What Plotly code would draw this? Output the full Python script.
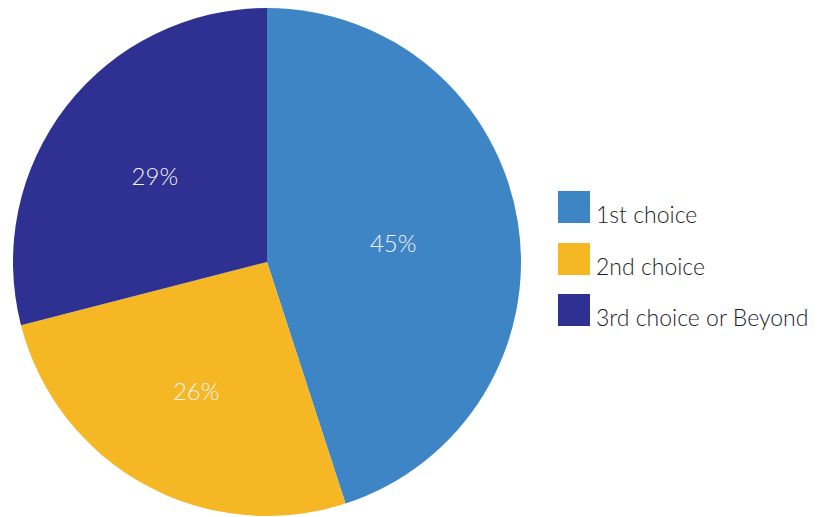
import plotly.graph_objects as go

labels = ["1st choice", "2nd choice", "3rd choice or Beyond"]
values = [45, 26, 29]
colors = ["#3E85C6", "#F5B724", "#2E3192"]

W, H = 822, 517
OFF = 8  # page body margin compensation
cx, cy, r = 267 - OFF, 262 - OFF, 254

fig = go.Figure(go.Pie(
    labels=labels,
    values=values,
    sort=False,
    direction="clockwise",
    rotation=0,
    marker=dict(colors=colors, line=dict(width=0)),
    texttemplate="%{value}%",
    textposition="inside",
    insidetextorientation="horizontal",
    insidetextfont=dict(family="Lato", size=24, color="#F4F4F4", weight=300),
    showlegend=False,
    hoverinfo="label+percent",
    domain=dict(x=[(cx - r) / W, (cx + r) / W], y=[1 - (cy + r) / H, 1 - (cy - r) / H]),
))

# legend drawn from the label/color arrays
sq = 32
sq_x0 = 558 - OFF
sq_tops = [191 - OFF, 243 - OFF, 294 - OFF]
shapes = []
annotations = []
for lab, col, top in zip(labels, colors, sq_tops):
    shapes.append(dict(type="rect", xref="paper", yref="paper",
                       x0=sq_x0 / W, x1=(sq_x0 + sq) / W,
                       y0=1 - (top + sq) / H, y1=1 - top / H,
                       fillcolor=col, line=dict(width=0)))
    annotations.append(dict(text=lab, xref="paper", yref="paper",
                            x=(594 - OFF) / W, y=1 - (top + 23) / H,
                            xanchor="left", yanchor="middle", showarrow=False,
                            font=dict(family="Lato", size=23, color="#1E1E1E", weight=300)))

fig.update_layout(
    width=W, height=H,
    margin=dict(l=0, r=0, t=0, b=0),
    paper_bgcolor="white",
    plot_bgcolor="white",
    shapes=shapes,
    annotations=annotations,
)

fig.write_html("out.html")
